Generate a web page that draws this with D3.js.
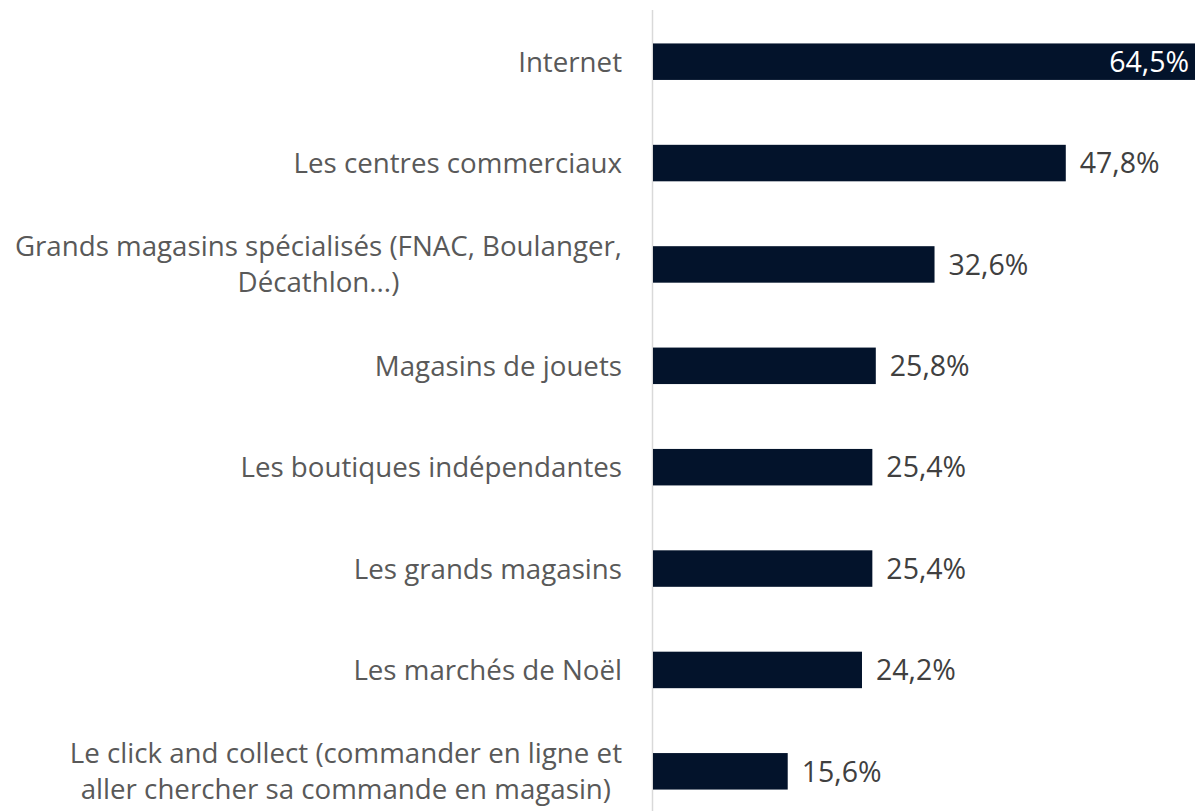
<!DOCTYPE html>
<html>
<head>
<meta charset="utf-8">
<script src="https://cdn.jsdelivr.net/npm/d3@7"></script>
<style>
  html, body { margin: 0; padding: 0; background: #fff; }
  svg { display: block; }
</style>
</head>
<body>
<svg id="chart"></svg>
<script>
// catégories (de haut en bas), chaque entrée = lignes du libellé
const categories = [
  ['Internet'],
  ['Les centres commerciaux'],
  ['Grands magasins spécialisés (FNAC, Boulanger,', 'Décathlon...)'],
  ['Magasins de jouets'],
  ['Les boutiques indépendantes'],
  ['Les grands magasins'],
  ['Les marchés de Noël'],
  ['Le click and collect (commander en ligne et', 'aller chercher sa commande en magasin)']
];
const values = [64.5, 47.8, 32.6, 25.8, 25.4, 25.4, 24.2, 15.6];
const valueLabels = ['64,5%', '47,8%', '32,6%', '25,8%', '25,4%', '25,4%', '24,2%', '15,6%'];

const W = 1195, H = 811;
const FONT = '"Open Sans", sans-serif';

const svg = d3.select('#chart').attr('width', W).attr('height', H);

const x = d3.scaleLinear().domain([0, 64.5]).range([653, 653 + 557]);
const y = d3.scaleBand().domain(d3.range(categories.length)).range([11, 822]).paddingInner(0.64).paddingOuter(0.32);

// axe vertical
svg.append('line')
  .attr('x1', 652.5).attr('x2', 652.5)
  .attr('y1', 10).attr('y2', H)
  .attr('stroke', '#d9d9d9').attr('stroke-width', 1.5);

const g = svg.append('g');

g.selectAll('rect')
  .data(values)
  .enter().append('rect')
  .attr('x', x(0))
  .attr('y', (d, i) => y(i))
  .attr('width', d => Math.min(x(d), W) - x(0))
  .attr('height', y.bandwidth())
  .attr('fill', '#03132b');

// étiquettes de valeur
g.selectAll('text.val')
  .data(values)
  .enter().append('text')
  .attr('class', 'val')
  .attr('x', d => x(d) > W ? W - 6 : x(d) + 14)
  .attr('y', (d, i) => y(i) + y.bandwidth() / 2)
  .attr('dy', '0.36em')
  .attr('text-anchor', d => x(d) > W ? 'end' : 'start')
  .attr('fill', d => x(d) > W ? '#ffffff' : '#404040')
  .attr('font-family', FONT)
  .attr('font-size', 28.5)
  .text((d, i) => valueLabels[i]);

// libellés des catégories, lignes centrées dans un bloc aligné à droite
const LINE_H = 36;
categories.forEach((lines, i) => {
  const cy = y(i) + y.bandwidth() / 2;
  const t = g.append('text')
    .attr('font-family', FONT)
    .attr('font-size', 27.7)
    .attr('fill', '#595959');
  const spans = lines.map((s, k) => t.append('tspan')
    .attr('y', cy + (k - (lines.length - 1) / 2) * LINE_H)
    .attr('dy', '0.36em')
    .text(s));
  const widths = spans.map(s => s.node().getComputedTextLength());
  const maxW = d3.max(widths);
  const cx = 622 - maxW / 2;
  spans.forEach(s => s.attr('x', cx).attr('text-anchor', 'middle'));
});
</script>
</body>
</html>
